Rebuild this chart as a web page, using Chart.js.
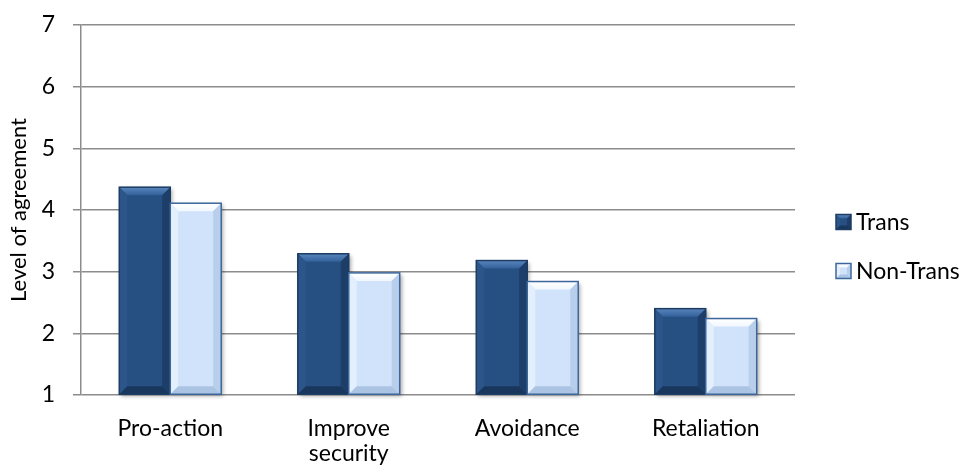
<!DOCTYPE html>
<html>
<head>
<meta charset="utf-8">
<script src="https://cdn.jsdelivr.net/npm/chart.js@4/dist/chart.umd.min.js"></script>
<style>
  html, body { margin: 0; padding: 0; background: #fff; }
  #wrap { width: 972px; height: 473px; }
</style>
</head>
<body>
<div id="wrap"><canvas id="chart" width="972" height="473"></canvas></div>
<script>
// values
const categories = ["Pro-action", ["Improve", "security"], "Avoidance", "Retaliation"];
const seriesNames = ["Trans", "Non-Trans"];
const transValues = [4.37, 3.29, 3.18, 2.40];
const nonTransValues = [4.11, 2.98, 2.84, 2.24];
const yTicks = [1, 2, 3, 4, 5, 6, 7];

const FONT = "Lato, 'Open Sans', sans-serif";
const DARK = '#264f82';
const LIGHT = '#d0e3fa';

function bevelRect(ctx, x0, y0, x1, y1, light, b) {
  const w = x1 - x0;
  ctx.fillStyle = light ? LIGHT : DARK;
  ctx.fillRect(x0, y0, w, y1 - y0);
  let g = ctx.createLinearGradient(0, y0, 0, y0 + b);
  g.addColorStop(0, light ? '#ffffff' : '#5a86bd');
  g.addColorStop(1, light ? '#f2f8ff' : '#32609a');
  ctx.fillStyle = g;
  ctx.beginPath();
  ctx.moveTo(x0, y0); ctx.lineTo(x1, y0); ctx.lineTo(x1 - b, y0 + b); ctx.lineTo(x0 + b, y0 + b);
  ctx.closePath(); ctx.fill();
  ctx.fillStyle = light ? '#e4effd' : '#2c5689';
  ctx.beginPath();
  ctx.moveTo(x0, y0); ctx.lineTo(x0 + b, y0 + b); ctx.lineTo(x0 + b, y1 - b); ctx.lineTo(x0, y1);
  ctx.closePath(); ctx.fill();
  ctx.fillStyle = light ? '#b8cfeb' : '#1d3e68';
  ctx.beginPath();
  ctx.moveTo(x1, y0); ctx.lineTo(x1 - b, y0 + b); ctx.lineTo(x1 - b, y1 - b); ctx.lineTo(x1, y1);
  ctx.closePath(); ctx.fill();
  ctx.fillStyle = light ? '#abc4e4' : '#19375c';
  ctx.beginPath();
  ctx.moveTo(x0, y1); ctx.lineTo(x0 + b, y1 - b); ctx.lineTo(x1 - b, y1 - b); ctx.lineTo(x1, y1);
  ctx.closePath(); ctx.fill();
  ctx.strokeStyle = light ? '#3d679c' : '#1d3c63';
  ctx.lineWidth = 1.5;
  ctx.strokeRect(x0, y0, w, y1 - y0);
}

// bevelled bars with a soft shadow, like the office "bevel" style
const bevelPlugin = {
  id: 'bevel',
  beforeDatasetsDraw(chart) {
    const ctx = chart.ctx;
    chart.data.datasets.forEach((ds, i) => {
      chart.getDatasetMeta(i).data.forEach(bar => {
        const base = Math.min(bar.base, chart.chartArea.bottom);
        ctx.save();
        ctx.shadowColor = 'rgba(0,0,0,0.35)';
        ctx.shadowBlur = 4;
        ctx.shadowOffsetX = 2;
        ctx.shadowOffsetY = 2;
        ctx.fillStyle = '#ffffff';
        ctx.fillRect(bar.x - bar.width / 2, bar.y, bar.width, base - bar.y);
        ctx.restore();
      });
    });
  },
  afterDatasetsDraw(chart) {
    const ctx = chart.ctx;
    chart.data.datasets.forEach((ds, i) => {
      chart.getDatasetMeta(i).data.forEach(bar => {
        const base = Math.min(bar.base, chart.chartArea.bottom);
        ctx.save();
        bevelRect(ctx, bar.x - bar.width / 2, bar.y, bar.x + bar.width / 2, base, i === 1, 8);
        ctx.restore();
      });
    });
  },
  afterDraw(chart) {
    // legend at the right side
    const ctx = chart.ctx;
    const lx = chart.chartArea.right + 41;
    const ys = [222, 271];
    ctx.save();
    seriesNames.forEach((name, i) => {
      bevelRect(ctx, lx, ys[i] - 7.5, lx + 15, ys[i] + 7.5, i === 1, 4);
      ctx.fillStyle = '#000';
      ctx.font = '23px ' + FONT;
      ctx.textBaseline = 'middle';
      ctx.textAlign = 'left';
      ctx.fillText(name, lx + 20, ys[i] + 1);
    });
    ctx.restore();
  }
};

new Chart(document.getElementById('chart'), {
  type: 'bar',
  data: {
    labels: categories,
    datasets: [{
      label: seriesNames[0],
      data: transValues,
      backgroundColor: DARK,
      borderWidth: 0,
      base: 1,
      categoryPercentage: 0.571,
      barPercentage: 1.0
    }, {
      label: seriesNames[1],
      data: nonTransValues,
      backgroundColor: LIGHT,
      borderWidth: 0,
      base: 1,
      categoryPercentage: 0.571,
      barPercentage: 1.0
    }]
  },
  options: {
    responsive: false,
    animation: false,
    layout: { padding: { top: 25, right: 177, left: 0, bottom: 0 } },
    plugins: {
      tooltip: { enabled: false },
      legend: { display: false }
    },
    scales: {
      x: {
        grid: { display: false, drawTicks: false },
        border: { display: false },
        ticks: { color: '#000', font: { family: FONT, size: 23, lineHeight: 1.1 }, padding: 21, maxRotation: 0 },
        afterFit(scale) { scale.height = 78; }
      },
      y: {
        min: 1,
        max: 7,
        afterBuildTicks(axis) { axis.ticks = yTicks.map(v => ({ value: v })); },
        grid: { color: '#8c8c8c', lineWidth: 1.5, tickLength: 8, drawTicks: true },
        border: { color: '#8c8c8c', width: 1.5 },
        ticks: { color: '#000', font: { family: FONT, size: 23 }, padding: 18 },
        title: { display: true, text: 'Level of agreement', color: '#000', font: { family: FONT, size: 22 }, padding: 6 },
        afterFit(scale) {
          scale.width = 81;
          scale.paddingTop = 0;
          scale.paddingBottom = 0;
        }
      }
    }
  },
  plugins: [bevelPlugin]
});
</script>
</body>
</html>
